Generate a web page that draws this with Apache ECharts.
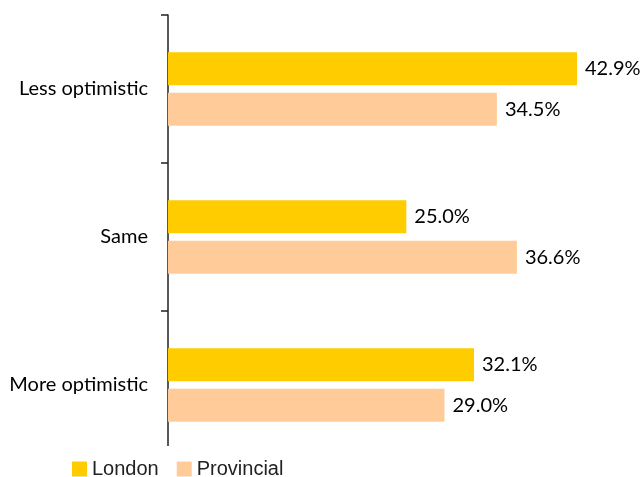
<!DOCTYPE html>
<html>
<head>
<meta charset="utf-8">
<script src="https://cdn.jsdelivr.net/npm/echarts@6/dist/echarts.min.js"></script>
<style>
  html, body { margin: 0; padding: 0; background: #fff; }
  #chart { width: 641px; height: 477px; }
</style>
</head>
<body>
<div id="chart"></div>
<script>
// Outlook responses by region (percent of respondents)
const categories = ['Less optimistic', 'Same', 'More optimistic'];
const london = [42.9, 25.0, 32.1];
const provincial = [34.5, 36.6, 29.0];
const seriesNames = ['London', 'Provincial'];

const labelFont = 'Lato, "Open Sans", sans-serif';

const chart = echarts.init(document.getElementById('chart'), null, { renderer: 'canvas' });

const valueLabel = {
  show: true,
  position: 'right',
  distance: 8,
  color: '#000',
  fontFamily: labelFont,
  fontSize: 20,
  formatter: p => p.value.toFixed(1) + '%'
};

chart.setOption({
  animation: false,
  backgroundColor: '#fff',
  grid: { left: 168, top: 15, width: 429, height: 444, containLabel: false },
  xAxis: {
    type: 'value',
    min: 0,
    max: 45,
    show: false
  },
  yAxis: {
    type: 'category',
    data: categories,
    inverse: true,
    axisLine: { show: true, lineStyle: { color: '#222', width: 1.5 } },
    axisTick: { show: true, length: 7, lineStyle: { color: '#222', width: 1.5 } },
    axisLabel: {
      color: '#000',
      fontFamily: labelFont,
      fontSize: 20,
      margin: 20
    }
  },
  legend: {
    data: seriesNames,
    left: 67,
    top: 454,
    itemWidth: 15,
    itemHeight: 15,
    itemGap: 18,
    icon: 'rect',
    textStyle: {
      fontFamily: '"Liberation Sans", Arial, sans-serif',
      fontSize: 20,
      color: '#222',
      padding: [0, 0, 0, 0]
    }
  },
  // the vertical axis rule stops short of the last band's lower edge
  graphic: [{
    type: 'rect',
    left: 155,
    top: 446,
    shape: { width: 18, height: 16 },
    style: { fill: '#fff' },
    z: 100
  }],
  series: [
    {
      name: seriesNames[0],
      type: 'bar',
      data: london,
      barWidth: 33,
      barGap: '23%',
      itemStyle: { color: '#FFCC00' },
      label: valueLabel
    },
    {
      name: seriesNames[1],
      type: 'bar',
      data: provincial,
      barWidth: 33,
      barGap: '23%',
      itemStyle: { color: '#FFCC99' },
      label: valueLabel
    }
  ]
});
</script>
</body>
</html>
